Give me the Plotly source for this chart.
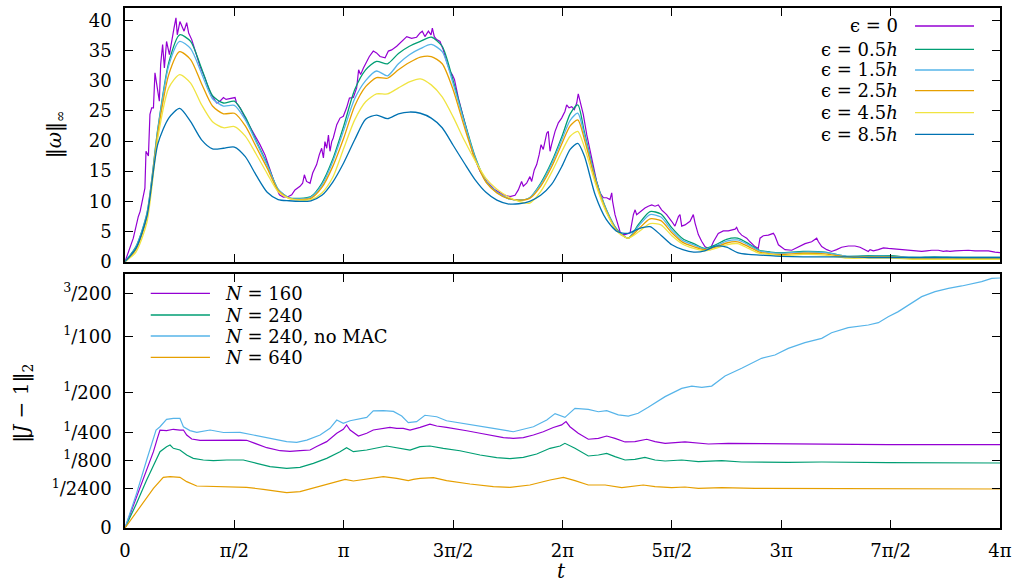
import numpy as np
import plotly.graph_objects as go

PI = np.pi

# ---------------- top panel: ||omega||_inf ----------------
# noisy epsilon = 0 series as (t/pi, value)
eps0_points = [
    (0, 0), (0.038, 3.9), (0.061, 7.5), (0.069, 8.3), (0.091, 12.2), (0.096, 18.3), (0.107, 17.5),
    (0.114, 24.4), (0.122, 25.5), (0.130, 25.5), (0.137, 31.3), (0.145, 29.3), (0.157, 26.6),
    (0.163, 32.7), (0.172, 36.0), (0.180, 32.1), (0.190, 36.5), (0.203, 34.3), (0.213, 36.8),
    (0.224, 38.7), (0.233, 40.4), (0.239, 37.6), (0.251, 39.8), (0.261, 39.0), (0.270, 38.2),
    (0.282, 39.6), (0.291, 37.9), (0.305, 36.8), (0.320, 34.9), (0.343, 32.4), (0.366, 30.4),
    (0.381, 28.8), (0.396, 27.6), (0.419, 26.3), (0.434, 26.6), (0.450, 27.2), (0.462, 26.9),
    (0.480, 27.0), (0.503, 27.2), (0.510, 26.3), (0.526, 25.5), (0.549, 23.8), (0.571, 22.4),
    (0.594, 21.0), (0.617, 19.4), (0.640, 17.7), (0.655, 16.1), (0.670, 14.4), (0.686, 12.8),
    (0.706, 11.1), (0.724, 10.7), (0.747, 10.8), (0.762, 11.1), (0.777, 11.9), (0.800, 12.5),
    (0.812, 13.0), (0.820, 14.4), (0.830, 13.3), (0.846, 13.0), (0.858, 14.7), (0.869, 15.5),
    (0.876, 16.1), (0.888, 17.7), (0.899, 18.8), (0.907, 17.2), (0.914, 19.9), (0.922, 18.8),
    (0.930, 21.0), (0.937, 18.3), (0.945, 19.9), (0.952, 20.5), (0.968, 22.7), (0.983, 23.8),
    (0.998, 24.1), (1.013, 25.5), (1.026, 27.1), (1.044, 27.2), (1.059, 28.8), (1.068, 31.8),
    (1.077, 31.0), (1.090, 32.1), (1.105, 33.2), (1.117, 34.0), (1.135, 34.9), (1.150, 34.6),
    (1.166, 34.0), (1.189, 33.8), (1.204, 34.9), (1.219, 35.1), (1.242, 35.7), (1.265, 36.5),
    (1.288, 37.3), (1.310, 37.0), (1.333, 37.2), (1.349, 37.9), (1.359, 38.2), (1.371, 37.3),
    (1.387, 38.2), (1.399, 37.6), (1.405, 38.7), (1.414, 37.3), (1.425, 36.8), (1.440, 36.5),
    (1.455, 35.1), (1.470, 33.2), (1.486, 31.5), (1.496, 31.0), (1.506, 30.2), (1.524, 27.1),
    (1.547, 23.8), (1.570, 20.5), (1.592, 17.7), (1.623, 15.0), (1.653, 13.3), (1.691, 11.9),
    (1.730, 11.1), (1.760, 10.8), (1.783, 11.0), (1.798, 11.9), (1.813, 13.3), (1.821, 12.5),
    (1.836, 13.0), (1.851, 14.1), (1.859, 13.3), (1.871, 15.2), (1.882, 16.1), (1.893, 17.7),
    (1.902, 19.4), (1.912, 18.6), (1.920, 20.2), (1.928, 21.3), (1.935, 21.6), (1.943, 18.3),
    (1.950, 19.4), (1.958, 20.8), (1.966, 21.6), (1.981, 23.0), (1.996, 23.8), (2.011, 24.9),
    (2.019, 26.0), (2.030, 25.5), (2.042, 25.7), (2.054, 25.2), (2.065, 26.3), (2.072, 27.8),
    (2.080, 26.6), (2.095, 24.4), (2.111, 21.0), (2.126, 18.3), (2.141, 15.5), (2.156, 13.3),
    (2.171, 11.4), (2.187, 10.6), (2.202, 10.6), (2.217, 10.3), (2.225, 11.4), (2.229, 10.0),
    (2.240, 7.8), (2.255, 5.9), (2.267, 4.5), (2.286, 4.5), (2.309, 4.8), (2.324, 7.8),
    (2.332, 8.6), (2.339, 7.8), (2.354, 8.3), (2.377, 8.9), (2.392, 9.2), (2.408, 9.4),
    (2.423, 9.2), (2.438, 9.4), (2.453, 8.6), (2.476, 7.8), (2.499, 6.7), (2.514, 5.9),
    (2.530, 7.5), (2.537, 7.8), (2.545, 5.9), (2.560, 6.1), (2.583, 6.7), (2.598, 7.8),
    (2.606, 6.4), (2.621, 4.5), (2.636, 3.4), (2.651, 2.5), (2.674, 2.0), (2.690, 3.3),
    (2.712, 4.7), (2.735, 5.1), (2.758, 5.1), (2.773, 5.2), (2.789, 5.4), (2.796, 5.7),
    (2.804, 5.0), (2.819, 4.4), (2.842, 3.9), (2.857, 3.3), (2.880, 2.5), (2.895, 2.2),
    (2.903, 3.9), (2.918, 4.3), (2.941, 4.4), (2.964, 4.7), (2.971, 4.3), (2.987, 2.8),
    (3.017, 2.0), (3.048, 1.9), (3.078, 2.5), (3.109, 3.0), (3.139, 3.3), (3.162, 3.9),
    (3.170, 3.3), (3.185, 2.5), (3.208, 2.0), (3.230, 1.7), (3.253, 2.0), (3.276, 2.4),
    (3.307, 2.6), (3.337, 2.6), (3.360, 2.4), (3.383, 1.9), (3.398, 1.7), (3.406, 2.0),
    (3.421, 1.8), (3.444, 2.0), (3.467, 2.3), (3.490, 2.2), (3.520, 2.1), (3.550, 2.0),
    (3.581, 1.9), (3.611, 1.8), (3.642, 1.7), (3.665, 1.8), (3.688, 1.9), (3.718, 1.9),
    (3.741, 1.7), (3.756, 1.8), (3.771, 1.7), (3.794, 1.8), (3.825, 1.9), (3.855, 1.9),
    (3.886, 1.8), (3.916, 1.8), (3.947, 1.8), (3.977, 1.6), (4.0, 1.5),
]

# common t/pi grid for the smoothed series
t_grid_pi = [0, 0.05, 0.1, 0.15, 0.2, 0.25, 0.3, 0.35, 0.4, 0.45,
             0.5, 0.55, 0.6, 0.65, 0.7, 0.75, 0.8, 0.85, 0.9, 0.95,
             1.0, 1.05, 1.1, 1.15, 1.2, 1.25, 1.3, 1.35, 1.4, 1.45,
             1.5, 1.55, 1.6, 1.65, 1.7, 1.75, 1.8, 1.85, 1.9, 1.95,
             2.0, 2.035, 2.07, 2.1, 2.15, 2.2, 2.25, 2.3, 2.35, 2.4,
             2.45, 2.5, 2.55, 2.6, 2.65, 2.7, 2.75, 2.8, 2.85, 2.9,
             2.95, 3.0, 3.1, 3.2, 3.3, 3.4, 3.5, 3.6, 3.7, 3.8,
             3.9, 4.0]

eps05 = [0, 2.5, 8.0, 22.0, 33.0, 37.6, 36.5, 32.0, 27.5, 26.3,
         26.6, 24.0, 20.0, 16.2, 12.0, 10.6, 10.5, 10.8, 13.0, 17.0,
         22.5, 28.5, 31.8, 33.2, 32.8, 34.5, 35.7, 36.5, 37.2, 35.7,
         30.0, 23.5, 17.5, 13.3, 11.5, 10.5, 10.2, 10.6, 13.0, 16.5,
         21.0, 24.5, 26.0, 21.5, 14.0, 8.7, 5.3, 3.9, 6.3, 8.3,
         7.9, 5.6, 3.8, 3.0, 2.2, 2.8, 3.7, 3.9, 3.0, 1.9,
         1.6, 1.5, 1.7, 1.6, 0.9, 1.0, 1.0, 0.7, 0.8, 0.7,
         0.7, 0.7]
eps15 = [0, 2.4, 7.8, 21.8, 32.5, 36.5, 35.3, 31.2, 27.0, 25.8,
         25.9, 23.5, 19.8, 16.0, 12.0, 10.6, 10.4, 10.7, 12.7, 16.6,
         21.8, 27.0, 30.0, 31.6, 30.8, 32.8, 34.3, 35.3, 36.0, 34.8,
         29.5, 23.2, 17.3, 13.3, 11.5, 10.5, 10.2, 10.6, 12.8, 16.2,
         20.5, 23.4, 24.6, 21.0, 13.8, 8.6, 5.2, 3.9, 6.0, 7.8,
         7.4, 5.2, 3.5, 2.8, 2.1, 2.6, 3.4, 3.6, 2.8, 1.8,
         1.5, 1.4, 1.6, 1.5, 0.9, 0.9, 0.9, 0.7, 0.7, 0.7,
         0.6, 0.6]
eps25 = [0, 2.0, 7.3, 21.3, 31.0, 34.8, 33.5, 29.5, 25.8, 24.5,
         24.6, 22.5, 19.0, 15.5, 11.8, 10.5, 10.3, 10.5, 12.3, 15.8,
         20.5, 25.8, 29.0, 30.5, 30.4, 31.8, 33.0, 33.9, 34.0, 32.8,
         28.5, 22.5, 17.0, 13.2, 11.4, 10.5, 10.2, 10.5, 12.5, 15.7,
         19.8, 22.5, 23.5, 20.3, 13.5, 8.4, 5.1, 3.9, 5.5, 7.1,
         6.8, 4.8, 3.2, 2.5, 2.0, 2.4, 3.1, 3.3, 2.5, 1.6,
         1.3, 1.2, 1.4, 1.3, 0.8, 0.8, 0.8, 0.6, 0.6, 0.6,
         0.6, 0.6]
eps45 = [0, 1.6, 6.5, 20.5, 28.8, 31.0, 29.6, 26.0, 23.2, 22.2,
         22.4, 20.8, 17.8, 14.6, 11.6, 10.5, 10.2, 10.3, 11.4, 14.0,
         18.8, 23.5, 26.5, 27.8, 27.8, 28.8, 29.8, 30.3, 29.3, 27.3,
         24.0, 20.2, 16.8, 13.8, 12.0, 10.8, 10.0, 9.7, 11.6, 14.8,
         18.5, 20.8, 21.6, 19.0, 13.0, 8.2, 5.0, 3.9, 5.0, 6.3,
         6.1, 4.3, 2.9, 2.2, 1.8, 2.2, 2.8, 3.0, 2.2, 1.4,
         1.2, 1.0, 1.2, 1.1, 0.6, 0.6, 0.6, 0.4, 0.4, 0.4,
         0.4, 0.4]
eps85 = [0, 2.2, 7.5, 19.5, 23.8, 25.4, 23.2, 20.2, 18.7, 18.8,
         19.0, 17.4, 14.3, 11.5, 10.3, 10.1, 10.0, 10.1, 11.0, 13.2,
         16.4, 20.2, 23.6, 24.3, 23.7, 24.5, 24.8, 24.6, 23.8, 22.2,
         19.3, 16.4, 13.6, 11.5, 10.2, 9.6, 9.6, 10.0, 11.0, 12.8,
         16.0, 18.6, 19.6, 17.5, 11.0, 7.0, 5.0, 4.7, 5.5, 5.8,
         4.4, 2.8, 2.0, 1.6, 1.8, 2.6, 2.4, 1.5, 1.2, 1.1,
         1.0, 0.9, 0.8, 0.8, 0.8, 0.7, 0.7, 0.7, 0.7, 0.7,
         0.7, 0.7]

top_labels = ["ϵ = 0", "ϵ = 0.5<i>h</i>", "ϵ = 1.5<i>h</i>", "ϵ = 2.5<i>h</i>",
              "ϵ = 4.5<i>h</i>", "ϵ = 8.5<i>h</i>"]
top_colors = ["#9400d3", "#009e73", "#56b4e9", "#e69f00", "#f0e442", "#0072b2"]

# ---------------- bottom panel: ||J - 1||_2 (values in units of 1e-4) ----------------
n160_points = [
    (0, 0), (0.053, 2.68), (0.099, 9.72), (0.130, 15.9), (0.148, 21.95), (0.160, 26.2),
    (0.190, 25.9), (0.221, 26.6), (0.251, 26.2), (0.267, 26.2), (0.282, 23.6), (0.305, 21.6),
    (0.343, 21.0), (0.389, 21.1), (0.434, 21.0), (0.480, 21.0), (0.526, 21.1), (0.556, 21.0),
    (0.602, 19.3), (0.648, 17.6), (0.709, 16.3), (0.754, 16.0), (0.800, 16.3), (0.846, 16.6),
    (0.876, 18.1), (0.922, 20.35), (0.968, 24.5), (0.998, 26.6), (1.013, 29.0), (1.029, 26.2),
    (1.067, 23.1), (1.105, 24.5), (1.135, 26.2), (1.181, 27.1), (1.211, 27.6), (1.242, 27.1),
    (1.272, 27.1), (1.303, 26.2), (1.318, 26.6), (1.349, 27.6), (1.394, 29.4), (1.425, 28.4),
    (1.470, 27.6), (1.516, 26.8), (1.562, 25.8), (1.623, 24.5), (1.684, 23.1), (1.730, 22.3),
    (1.775, 21.95), (1.821, 22.3), (1.867, 23.6), (1.912, 25.3), (1.958, 27.6), (1.996, 29.0),
    (2.016, 30.9), (2.034, 28.0), (2.072, 24.5), (2.118, 21.5), (2.164, 21.95), (2.202, 23.1),
    (2.240, 21.95), (2.286, 20.2), (2.331, 20.35), (2.385, 21.5), (2.423, 20.35), (2.469, 19.57),
    (2.560, 20.2), (2.621, 19.57), (2.667, 19.26), (2.758, 19.57), (2.880, 19.4), (3.032, 19.26),
    (3.185, 19.1), (3.337, 19.1), (3.489, 18.96), (3.642, 18.96), (3.794, 18.96), (4.0, 18.96),
]
n240_points = [
    (0, 0), (0.053, 1.66), (0.099, 6.29), (0.130, 10.83), (0.160, 15.9), (0.190, 18.06),
    (0.206, 18.8), (0.221, 17.33), (0.251, 16.6), (0.282, 14.55), (0.312, 13.25), (0.358, 12.62),
    (0.404, 12.37), (0.465, 12.62), (0.541, 12.62), (0.602, 11.42), (0.663, 10.27), (0.739, 9.72),
    (0.800, 10.05), (0.861, 11.42), (0.922, 13.25), (0.983, 15.9), (1.013, 17.6), (1.044, 15.9),
    (1.105, 16.6), (1.196, 18.35), (1.257, 17.33), (1.303, 16.6), (1.349, 18.06), (1.394, 18.35),
    (1.455, 17.33), (1.531, 16.3), (1.623, 14.55), (1.699, 13.5), (1.760, 13.12), (1.821, 13.64),
    (1.882, 14.95), (1.943, 17.33), (1.989, 18.35), (2.011, 19.57), (2.057, 17.33), (2.118, 14.15),
    (2.164, 14.55), (2.202, 15.22), (2.240, 13.89), (2.286, 12.62), (2.331, 12.87), (2.377, 13.63),
    (2.423, 12.62), (2.469, 12.25), (2.545, 12.62), (2.621, 12.0), (2.728, 12.37), (2.819, 11.89),
    (3.032, 11.77), (3.185, 11.89), (3.489, 11.65), (4.0, 11.53),
]
n240_nomac_points = [
    (0, 0), (0.053, 3.28), (0.099, 12.62), (0.130, 22.77), (0.142, 26.2), (0.160, 28.0),
    (0.190, 32.2), (0.221, 32.8), (0.251, 32.8), (0.267, 28.0), (0.297, 25.9), (0.328, 25.0),
    (0.389, 26.2), (0.450, 24.9), (0.526, 25.0), (0.587, 23.6), (0.663, 21.95), (0.739, 20.35),
    (0.785, 20.0), (0.831, 21.1), (0.892, 23.6), (0.937, 27.1), (0.968, 31.8), (0.998, 29.9),
    (1.029, 31.4), (1.059, 32.2), (1.105, 33.4), (1.135, 37.4), (1.181, 37.6), (1.227, 37.1),
    (1.265, 34.2), (1.295, 30.3), (1.333, 30.9), (1.371, 34.7), (1.425, 33.8), (1.470, 31.4),
    (1.577, 29.0), (1.684, 27.1), (1.775, 25.3), (1.867, 28.0), (1.928, 31.8), (1.966, 35.7),
    (2.011, 33.4), (2.057, 39.1), (2.118, 38.4), (2.164, 36.9), (2.202, 37.6), (2.255, 34.9),
    (2.301, 34.2), (2.346, 35.9), (2.392, 39.75), (2.469, 47.1), (2.545, 53.2), (2.591, 55.0),
    (2.637, 54.0), (2.682, 55.0), (2.743, 63.1), (2.819, 69.6), (2.910, 78.6), (2.971, 81.7),
    (3.032, 88.1), (3.108, 93.8), (3.185, 98.2), (3.230, 104.1), (3.306, 109.6), (3.398, 112.5),
    (3.444, 115.1), (3.489, 121.9), (3.535, 127.8), (3.581, 135.7), (3.642, 146.1), (3.703, 152.5),
    (3.764, 156.8), (3.825, 159.9), (3.870, 162.5), (3.916, 165.6), (3.962, 170.1), (4.0, 170.6),
]
n640_points = [
    (0, 0), (0.069, 1.24), (0.130, 4.29), (0.175, 7.01), (0.206, 7.19), (0.251, 7.01),
    (0.282, 5.86), (0.328, 4.81), (0.404, 4.66), (0.480, 4.51), (0.556, 4.51), (0.632, 4.08),
    (0.739, 3.41), (0.800, 3.60), (0.892, 4.81), (0.968, 6.03), (1.006, 6.47), (1.044, 6.03),
    (1.105, 6.47), (1.181, 7.19), (1.242, 6.73), (1.295, 6.12), (1.318, 6.47), (1.349, 6.73),
    (1.410, 6.91), (1.470, 6.12), (1.577, 5.28), (1.684, 4.66), (1.760, 4.51), (1.851, 5.05),
    (1.943, 6.29), (2.004, 7.01), (2.057, 6.12), (2.118, 5.05), (2.195, 5.05), (2.271, 4.44),
    (2.369, 5.05), (2.423, 4.66), (2.499, 4.44), (2.560, 4.59), (2.621, 4.29), (2.728, 4.44),
    (2.880, 4.29), (3.185, 4.22), (3.489, 4.22), (4.0, 4.15),
]
bottom_labels = ["<i>N</i> = 160", "<i>N</i> = 240", "<i>N</i> = 240, no MAC", "<i>N</i> = 640"]
bottom_colors = ["#9400d3", "#009e73", "#56b4e9", "#e69f00"]

x_tick_pi = [0, 0.5, 1, 1.5, 2, 2.5, 3, 3.5, 4]
x_tick_text = ["0", "π/2", "π", "3π/2", "2π", "5π/2", "3π", "7π/2", "4π"]
top_y_ticks = [0, 5, 10, 15, 20, 25, 30, 35, 40]
j_tick_values = [0, 1 / 2400, 1 / 800, 1 / 400, 1 / 200, 1 / 100, 3 / 200]
j_tick_text = ["0", "<sup>1</sup>/2400", "<sup>1</sup>/800", "<sup>1</sup>/400",
               "<sup>1</sup>/200", "<sup>1</sup>/100", "<sup>3</sup>/200"]

FONT = "DejaVu Serif"
FS = 18
LEG_FS = 18
TITLE_FS = 20

fig = go.Figure()

# top traces
t0, v0 = zip(*eps0_points)
fig.add_trace(go.Scatter(x=PI * np.array(t0), y=v0, mode="lines",
                         line=dict(color=top_colors[0], width=1.2),
                         xaxis="x", yaxis="y", showlegend=False, hoverinfo="skip"))
for vals, col in zip([eps05, eps15, eps25, eps45, eps85], top_colors[1:]):
    fig.add_trace(go.Scatter(x=PI * np.array(t_grid_pi), y=vals, mode="lines",
                             line=dict(color=col, width=1.3, shape="spline", smoothing=0.7),
                             xaxis="x", yaxis="y", showlegend=False, hoverinfo="skip"))

# bottom traces (sqrt-scaled axis)
for pts, col in zip([n160_points, n240_points, n240_nomac_points, n640_points], bottom_colors):
    tp, vp = zip(*pts)
    fig.add_trace(go.Scatter(x=PI * np.array(tp), y=np.sqrt(np.array(vp) * 1e-4), mode="lines",
                             line=dict(color=col, width=1.2),
                             xaxis="x2", yaxis="y2", showlegend=False, hoverinfo="skip"))

axis_common = dict(showline=True, linecolor="black", linewidth=1.5, mirror="ticks",
                   ticks="inside", ticklen=8, tickwidth=1.2, tickcolor="black",
                   showgrid=False, zeroline=False, automargin=False,
                   tickfont=dict(family=FONT, size=FS, color="black"))

x_range = [0, 4 * PI]
x_tickvals = [PI * k for k in x_tick_pi]

fig.update_layout(
    width=1019, height=587,
    margin=dict(l=125, r=19, t=8, b=59, autoexpand=False),
    paper_bgcolor="white", plot_bgcolor="white",
    font=dict(family=FONT, size=FS, color="black"),
    xaxis=dict(domain=[0, 1], anchor="y", range=x_range, tickvals=x_tickvals,
               showticklabels=False, **axis_common),
    yaxis=dict(domain=[0.5121, 1], anchor="x", range=[0, 42.04], tickvals=top_y_ticks,
               ticklabelstandoff=8, **axis_common),
    xaxis2=dict(domain=[0, 1], anchor="y2", range=x_range, tickvals=x_tickvals,
                ticktext=x_tick_text, ticklabelstandoff=6, **axis_common),
    yaxis2=dict(domain=[0, 0.4879], anchor="x2", range=[0, 0.13255],
                tickvals=[float(np.sqrt(v)) for v in j_tick_values], ticktext=j_tick_text,
                ticklabelstandoff=8, **axis_common),
)

annotations = []
shapes = []
# top legend: text right-aligned, line sample on the right
top_rows = [0.9654, 0.9206, 0.8808, 0.8410, 0.7987, 0.7571]
for lab, col, yy in zip(top_labels, top_colors, top_rows):
    annotations.append(dict(x=0.8857, y=yy, xref="paper", yref="paper", text=lab,
                            showarrow=False, xanchor="right", yanchor="middle",
                            font=dict(family=FONT, size=LEG_FS, color="black")))
    shapes.append(dict(type="line", xref="paper", yref="paper", x0=0.9029, x1=0.9703,
                       y0=yy, y1=yy, line=dict(color=col, width=1.3)))
# bottom legend: line sample on the left, text on the right
bot_rows = [0.4513, 0.4096, 0.3692, 0.3283]
for lab, col, yy in zip(bottom_labels, bottom_colors, bot_rows):
    annotations.append(dict(x=0.1117, y=yy, xref="paper", yref="paper", text=lab,
                            showarrow=False, xanchor="left", yanchor="middle",
                            font=dict(family=FONT, size=LEG_FS, color="black")))
    shapes.append(dict(type="line", xref="paper", yref="paper", x0=0.0294, x1=0.0971,
                       y0=yy, y1=yy, line=dict(color=col, width=1.3)))

# axis titles
annotations.append(dict(x=-0.08, y=0.757, xref="paper", yref="paper",
                        text="‖<i>ω</i>‖<sub>∞</sub>", textangle=-90, showarrow=False,
                        xanchor="center", yanchor="middle",
                        font=dict(family=FONT, size=TITLE_FS, color="black")))
annotations.append(dict(x=-0.117, y=0.24, xref="paper", yref="paper",
                        text="‖<i>J</i> − 1‖<sub>2</sub>", textangle=-90, showarrow=False,
                        xanchor="center", yanchor="middle",
                        font=dict(family=FONT, size=TITLE_FS, color="black")))
annotations.append(dict(x=0.4994, y=-0.083, xref="paper", yref="paper",
                        text="<i>t</i>", showarrow=False, xanchor="center", yanchor="middle",
                        font=dict(family=FONT, size=TITLE_FS, color="black")))

fig.update_layout(annotations=annotations, shapes=shapes)

fig.write_html("out.html", config={"displayModeBar": False},
               post_script="document.body.style.margin='0';document.body.style.overflow='hidden';")
